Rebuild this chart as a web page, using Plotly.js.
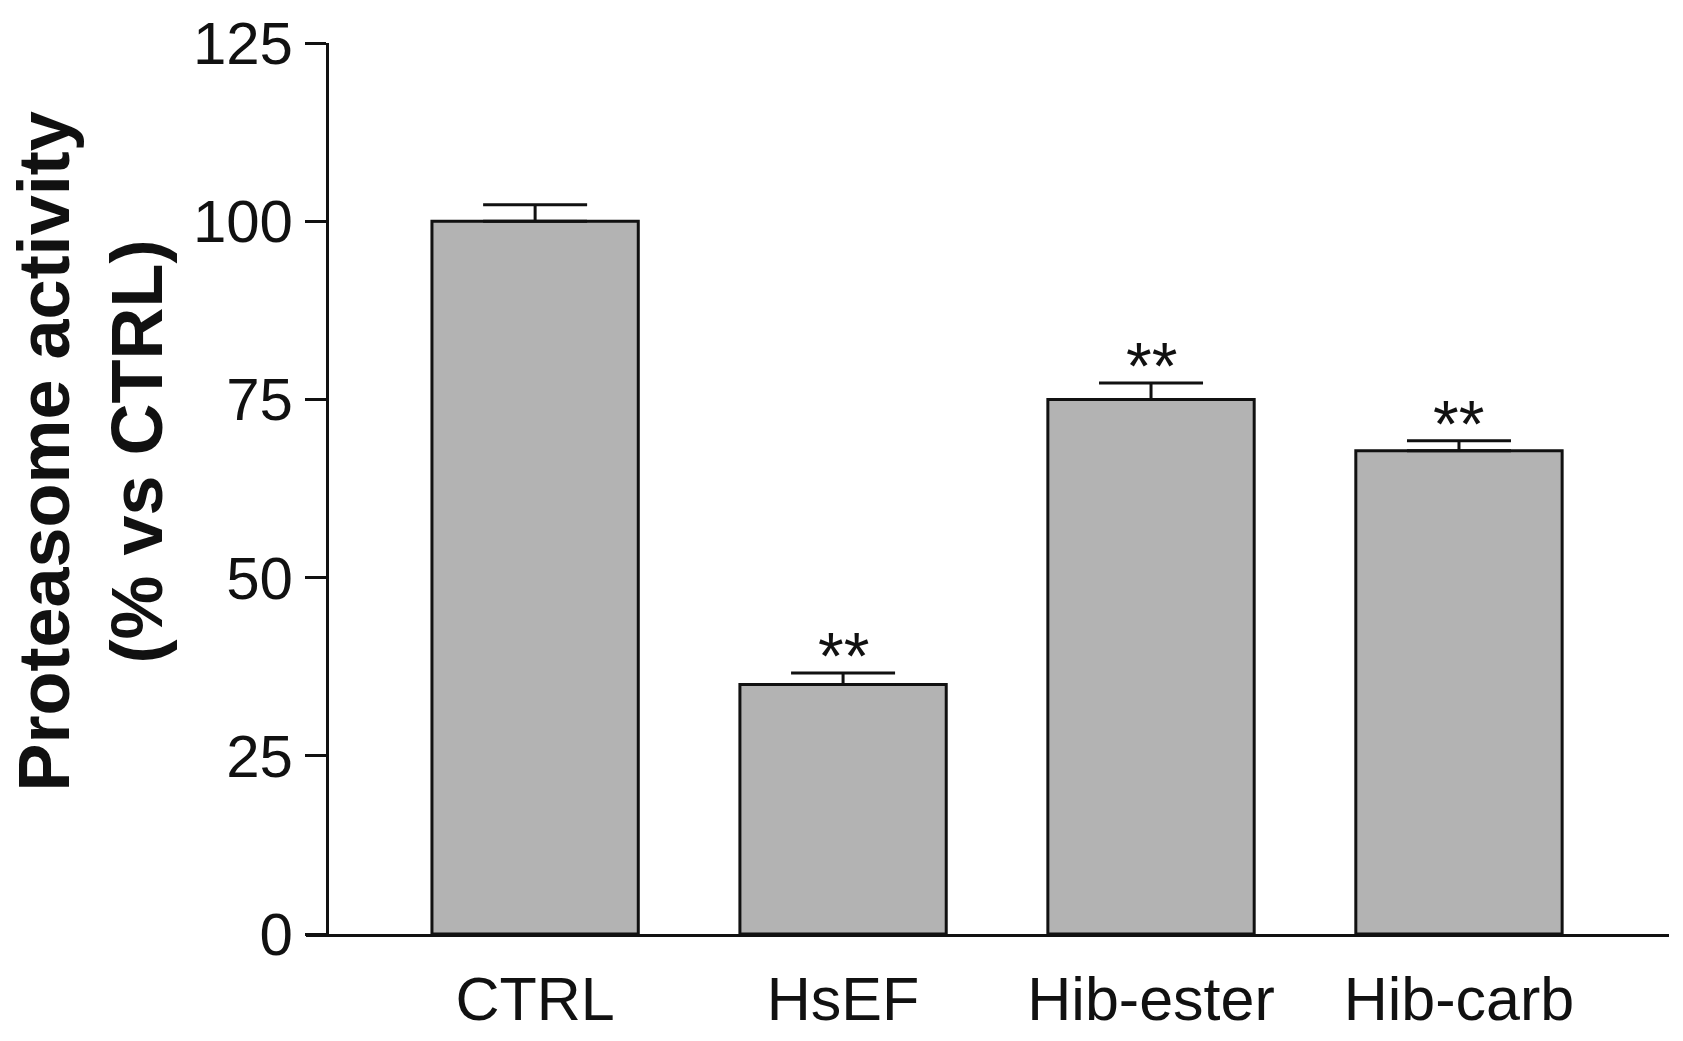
<!DOCTYPE html>
<html>
<head>
<meta charset="utf-8">
<script src="https://cdn.plot.ly/plotly-3.0.1.min.js"></script>
<style>html,body{margin:0;padding:0;background:#fff;}#chart{width:1683px;height:1041px;}</style>
</head>
<body>
<div id="chart"></div>
<script>
const categories = ['CTRL', 'HsEF', 'Hib-ester', 'Hib-carb'];
const activity = [100, 35, 75, 67.8];
const sem = [2.3, 1.6, 2.3, 1.4];
const significance = ['', '**', '**', '**'];
const yTicks = [0, 25, 50, 75, 100, 125];

const FONT = 'Liberation Sans, Arial, Helvetica, sans-serif';

const trace = {
  type: 'bar',
  x: categories,
  y: activity,
  width: 0.67,
  marker: {color: '#b3b3b3', line: {color: '#111111', width: 3}},
  error_y: {
    type: 'data', symmetric: false, array: sem, arrayminus: activity.map(() => 0),
    color: '#111111', thickness: 3, width: 52
  },
  hoverinfo: 'none'
};

const annotations = categories.map((c, i) => ({
  x: c, y: activity[i] + sem[i], xref: 'x', yref: 'y',
  text: significance[i], showarrow: false, yanchor: 'bottom', yshift: -22,
  font: {family: FONT, size: 66, color: '#111111'}
})).filter(a => a.text);

annotations.push({
  xref: 'paper', yref: 'paper', x: -0.158, y: 0.541,
  xanchor: 'center', yanchor: 'middle', textangle: -90, showarrow: false,
  text: '<b>Proteasome activity</b><br><b>(% vs CTRL)</b>',
  font: {family: FONT, size: 72, color: '#111111'}
});

const layout = {
  width: 1683, height: 1041,
  margin: {l: 306, r: 14, t: 43, b: 107},
  paper_bgcolor: '#ffffff', plot_bgcolor: '#ffffff',
  showlegend: false,
  font: {family: FONT, color: '#111111'},
  xaxis: {
    type: 'category', range: [-0.744, 3.682],
    showline: true, linecolor: '#111111', linewidth: 3,
    ticks: '', showgrid: false, zeroline: false,
    tickfont: {family: FONT, size: 61, color: '#111111'},
    ticklabelstandoff: 10
  },
  yaxis: {
    range: [0, 125], anchor: 'free', position: 0.0154,
    tickvals: yTicks, ticktext: yTicks.map(String),
    showline: true, linecolor: '#111111', linewidth: 3,
    ticks: 'outside', ticklen: 21, tickwidth: 3, tickcolor: '#111111',
    showgrid: false, zeroline: false,
    tickfont: {family: FONT, size: 60, color: '#111111'}
  },
  annotations: annotations
};

Plotly.newPlot('chart', [trace], layout, {displayModeBar: false, staticPlot: true});
</script>
</body>
</html>
